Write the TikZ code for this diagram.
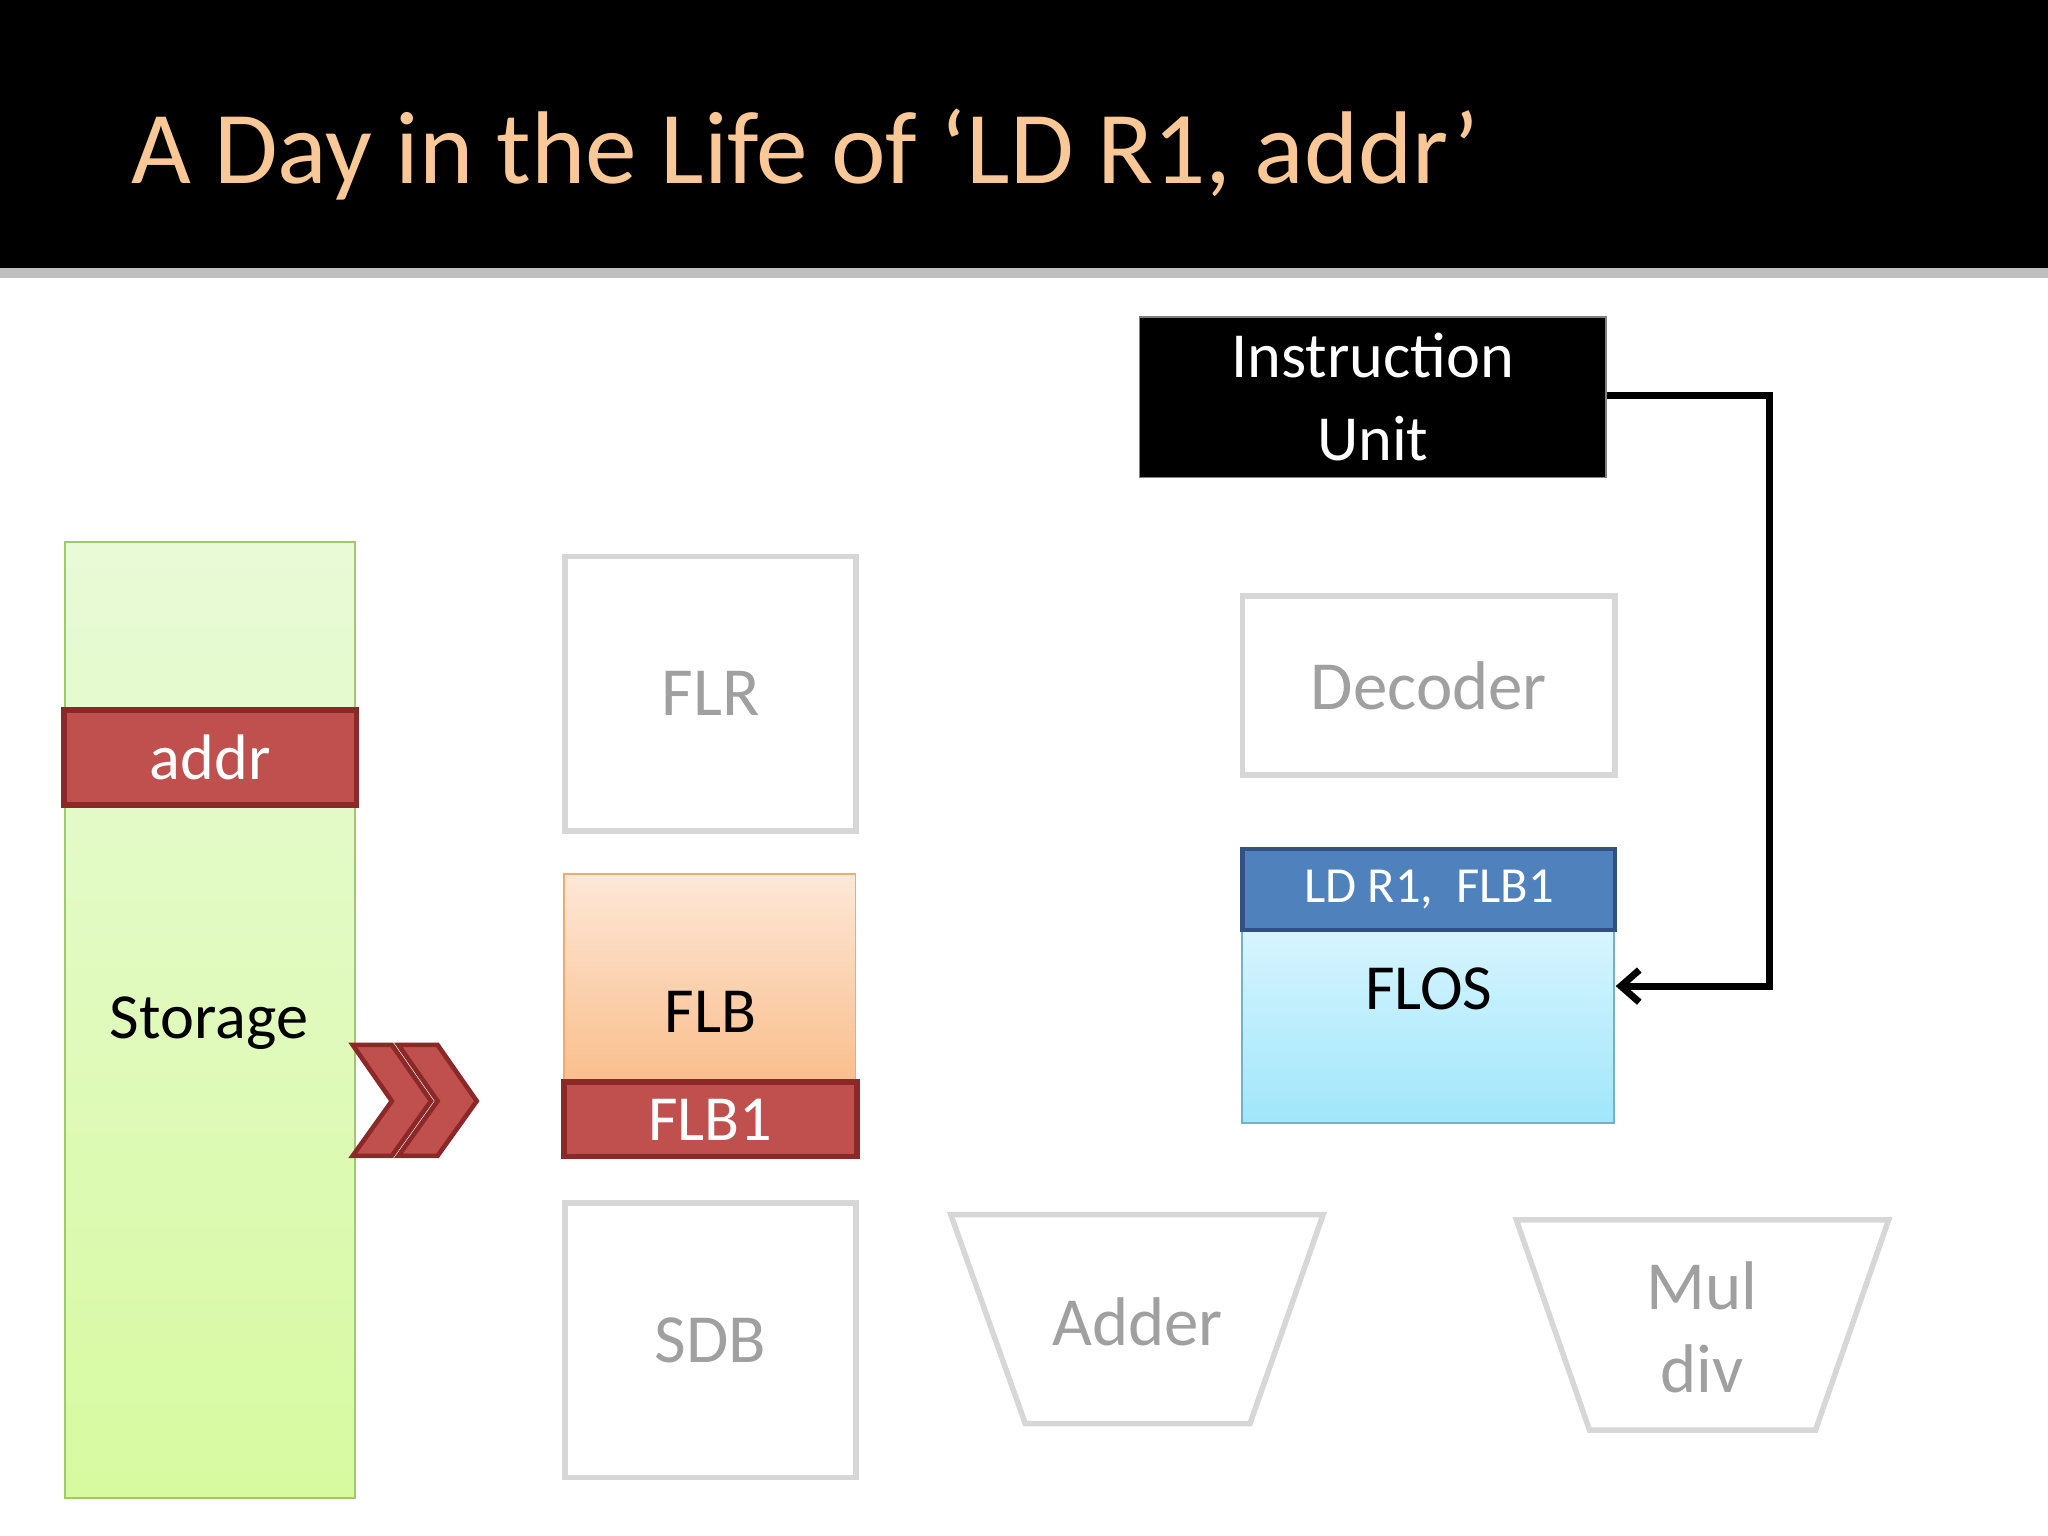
\documentclass[tikz,border=0pt]{standalone}
\usepackage{fontspec}
\setmainfont{Carlito}
\usetikzlibrary{positioning,arrows.meta}
\definecolor{titlecol}{RGB}{250,200,150}
\definecolor{redfill}{RGB}{192,80,77}
\definecolor{redline}{RGB}{140,40,40}
\definecolor{faint}{RGB}{215,215,215}
\definecolor{fainttext}{RGB}{160,160,160}
\tikzset{
  ghost/.style={draw=faint, line width=1.2pt, text=fainttext, font=\fontsize{15}{18}\selectfont},
  redbox/.style={draw=redline, fill=redfill, line width=1.2pt, text=white, font=\fontsize{14}{16}\selectfont}
}
\begin{document}
\begin{tikzpicture}[x=0.01cm,y=-0.01cm]
	\useasboundingbox (0,0) rectangle (1568,1176);
	\fill[white] (0,0) rectangle (1568,1176);
	\fill[black] (0,0) rectangle (1568,205);
	\fill[gray!50] (0,205) rectangle (1568,213);
	\node [anchor=west, text=titlecol, font=\fontsize{22.5}{26}\selectfont] (title) at(88,118) {A Day in the Life of ‘LD R1, addr’};
	% instruction unit
	\node [draw=gray, fill=black, text=white, inner sep=0pt, font=\fontsize{14}{18}\selectfont, align=center, text width=3.57cm, minimum height=1.23cm] (iu) at(1051,304) {Instruction\\Unit};
	% storage
	\shade [top color={rgb,255:red,232;green,250;blue,215}, bottom color={rgb,255:red,215;green,250;blue,160}, draw={rgb,255:red,160;green,200;blue,110}] (50,415) rectangle (272,1147);
	\node (storage) at(160,783) {\fontsize{14}{16}\selectfont Storage};
	\node [redbox, minimum width=2.24cm, minimum height=0.73cm] (addr) at(161,580) {addr};
	% chevrons
	\foreach \dx in {0,35}
		\draw [redline, fill=redfill, line width=1pt] (270+\dx,800) -- (300+\dx,800) -- (330+\dx,843) -- (300+\dx,885) -- (270+\dx,885) -- (300+\dx,843) -- cycle;
	% buffers
	\node [ghost, minimum width=2.23cm, minimum height=2.1cm] (flr) at(544,531) {FLR};
	\shade [top color={rgb,255:red,253;green,232;blue,215}, bottom color={rgb,255:red,250;green,190;blue,140}, draw={rgb,255:red,240;green,170;blue,110}] (432,669) rectangle (655,828);
	\node (flb) at(544,775) {\fontsize{14}{16}\selectfont FLB};
	\node [redbox, minimum width=2.24cm, minimum height=0.57cm] (flb1) at(544,857) {FLB1};
	\node [ghost, minimum width=2.23cm, minimum height=2.1cm] (sdb) at(544,1026) {SDB};
	\node [ghost, minimum width=2.85cm, minimum height=1.37cm] (dec) at(1094,525) {Decoder};
	% FLOS
	\shade [top color={rgb,255:red,215;green,245;blue,255}, bottom color={rgb,255:red,160;green,230;blue,250}, draw={rgb,255:red,110;green,180;blue,210}] (951,712) rectangle (1236,860);
	\node [draw={rgb,255:red,50;green,80;blue,130}, fill={rgb,255:red,79;green,129;blue,189}, line width=1pt, text=white, minimum width=2.85cm, minimum height=0.62cm, font=\fontsize{11}{13}\selectfont] (ld) at(1094,681) {LD R1,\ \ FLB1};
	\node (flos) at(1094,757) {\fontsize{14}{16}\selectfont FLOS};
	\coordinate (flosin) at(1237,755);
	% units
	\draw [faint, line width=1.2pt] (728,930) -- (1013,930) -- (957,1090) -- (785,1090) -- cycle;
	\node [text=fainttext, font=\fontsize{15}{18}\selectfont] (adder) at(871,1012) {Adder};
	\draw [faint, line width=1.2pt] (1161,934) -- (1446,934) -- (1390,1095) -- (1217,1095) -- cycle;
	\node [text=fainttext, align=center, font=\fontsize{15}{18}\selectfont] (mul) at(1303,1016) {Mul\\div};
	% connector
	\draw [line width=1.5pt, -{Straight Barb[length=4pt,width=7pt]}] (iu.east |- 0,303) -- (1355,303) -- (1355,755) -- (flosin);
\end{tikzpicture}
\end{document}
